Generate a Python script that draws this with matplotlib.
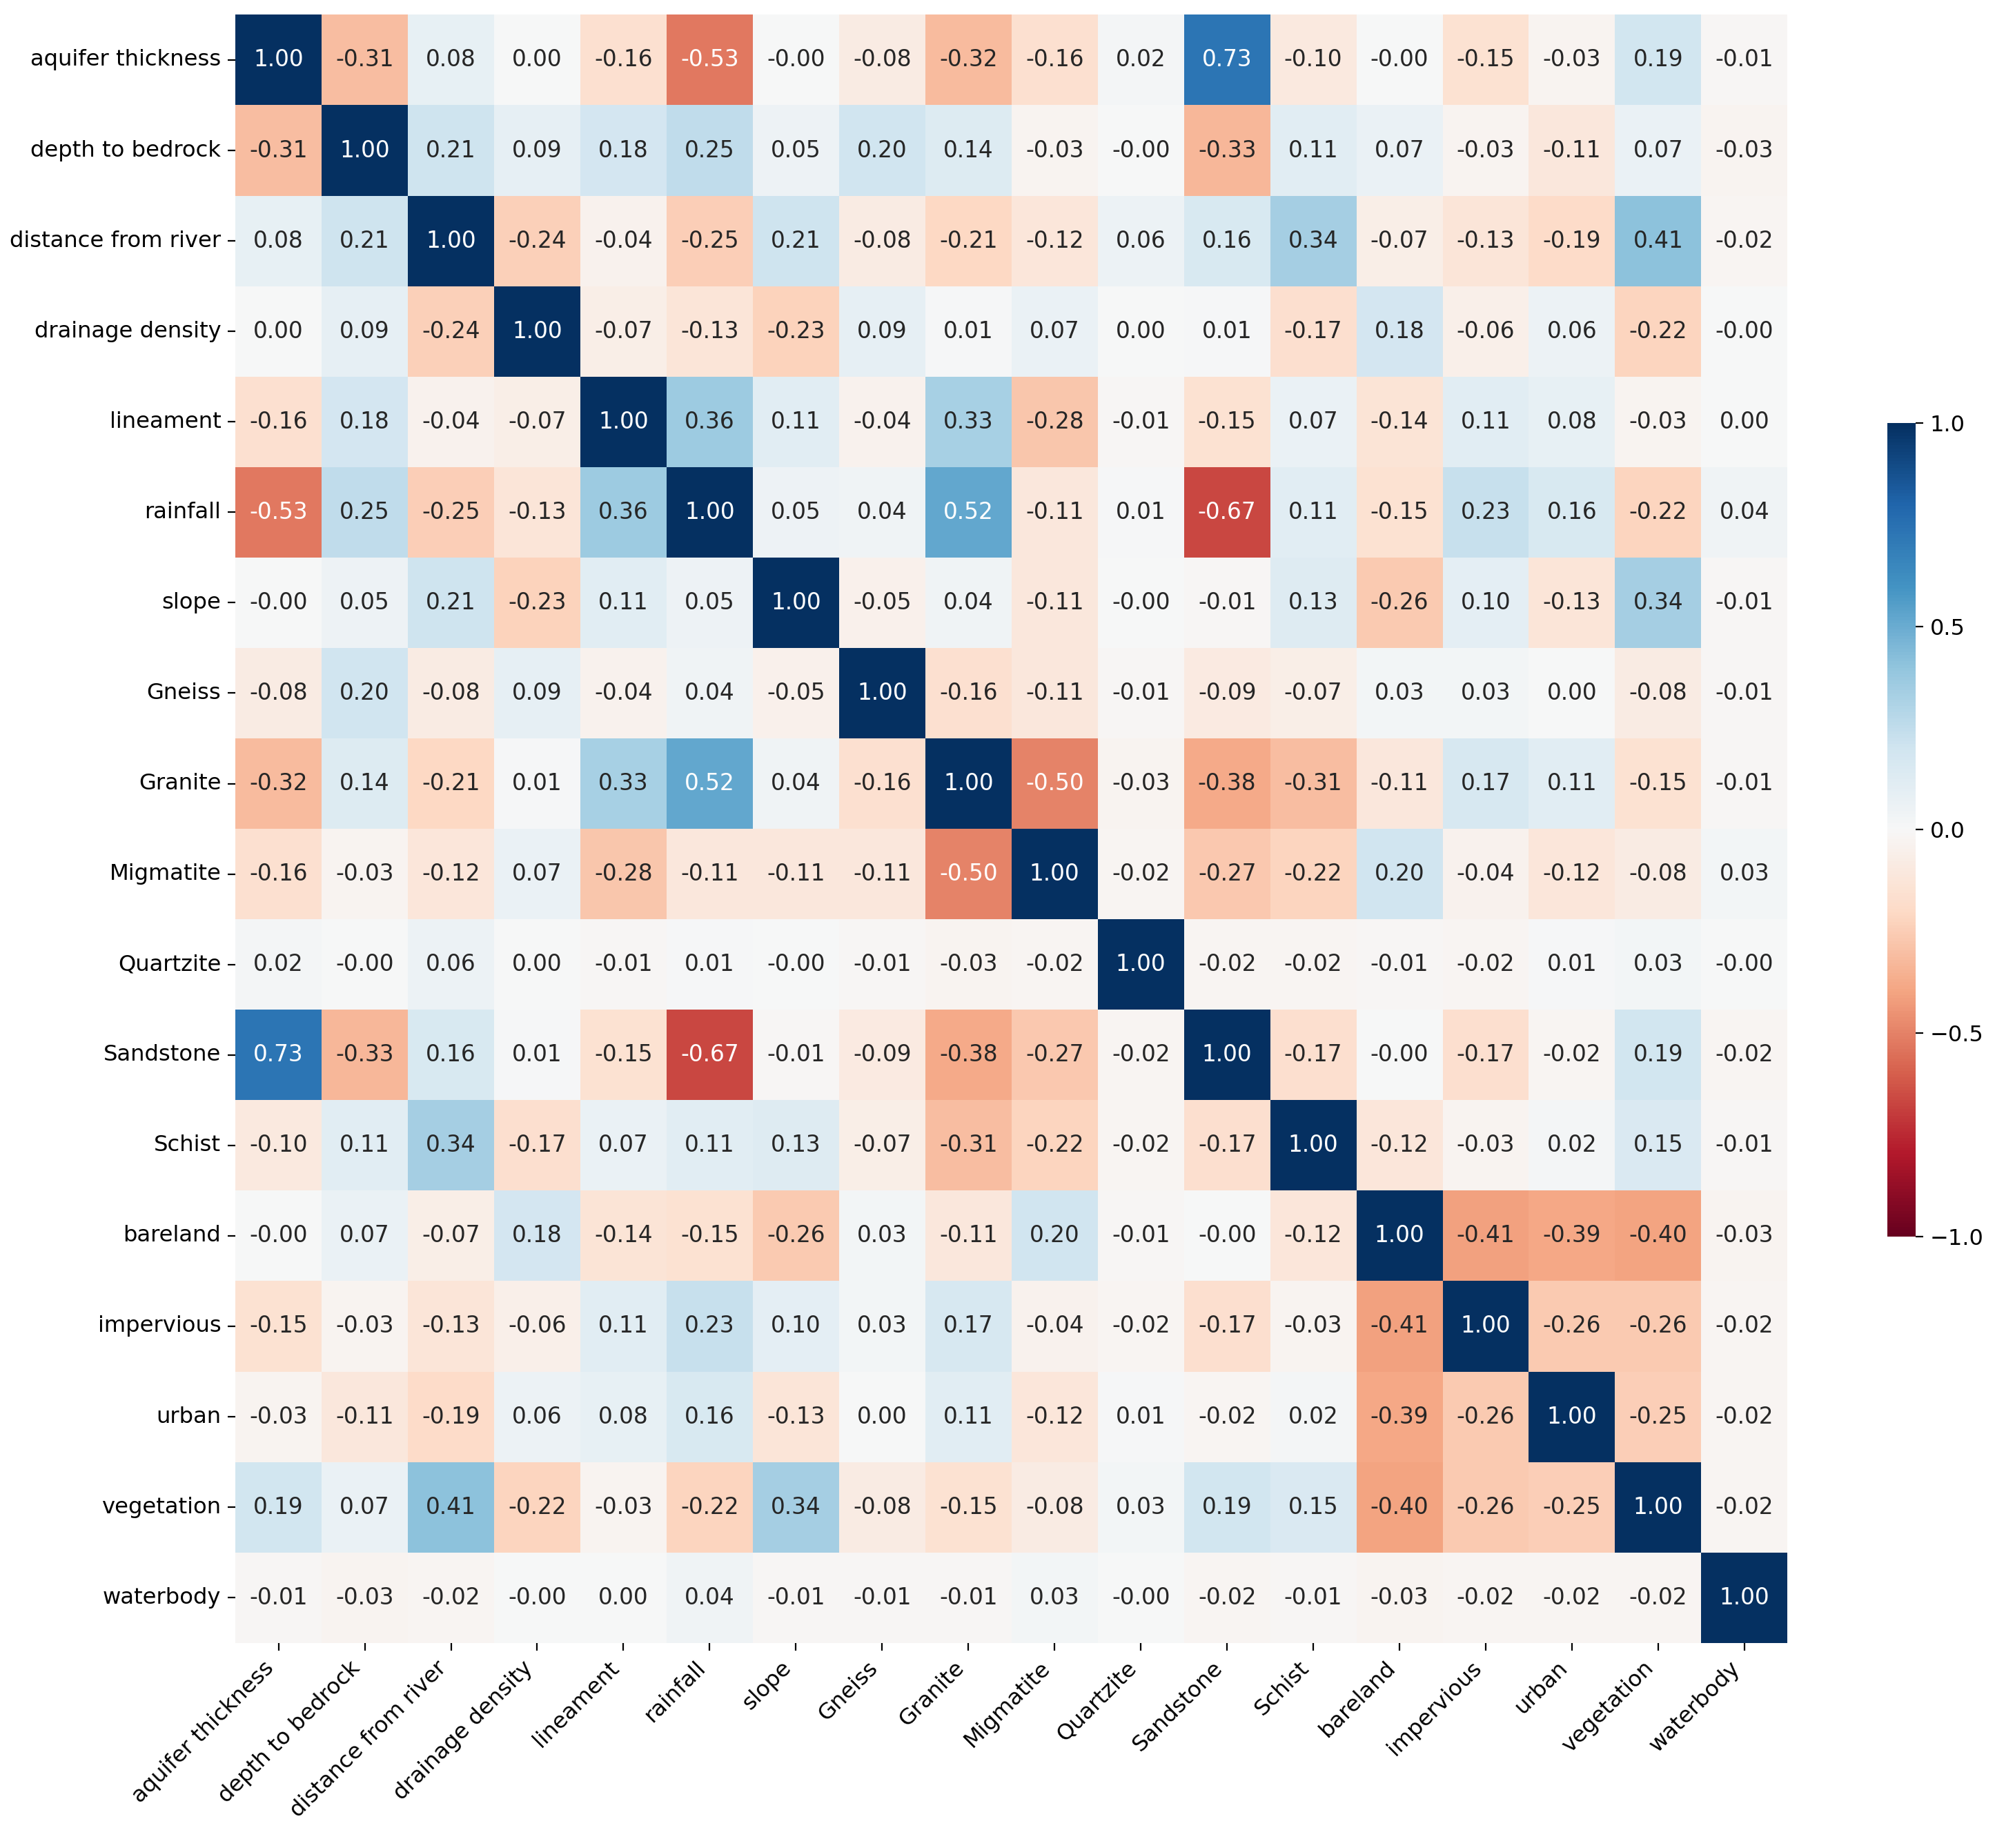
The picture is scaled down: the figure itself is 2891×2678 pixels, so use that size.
import numpy as np
import matplotlib
matplotlib.use('Agg')
import matplotlib.pyplot as plt
import seaborn as sns

# DATA

labels = ['aquifer thickness', 'depth to bedrock', 'distance from river',
          'drainage density', 'lineament', 'rainfall', 'slope', 'Gneiss',
          'Granite', 'Migmatite', 'Quartzite', 'Sandstone', 'Schist',
          'bareland', 'impervious', 'urban', 'vegetation', 'waterbody']

# one list per row (-0.0 shows as "-0.00")
aquifer_thickness = [1.00, -0.31, 0.08, 0.00, -0.16, -0.53, -0.0, -0.08, -0.32, -0.16, 0.02, 0.73, -0.10, -0.0, -0.15, -0.03, 0.19, -0.01]
depth_to_bedrock = [-0.31, 1.00, 0.21, 0.09, 0.18, 0.25, 0.05, 0.20, 0.14, -0.03, -0.0, -0.33, 0.11, 0.07, -0.03, -0.11, 0.07, -0.03]
distance_from_river = [0.08, 0.21, 1.00, -0.24, -0.04, -0.25, 0.21, -0.08, -0.21, -0.12, 0.06, 0.16, 0.34, -0.07, -0.13, -0.19, 0.41, -0.02]
drainage_density = [0.00, 0.09, -0.24, 1.00, -0.07, -0.13, -0.23, 0.09, 0.01, 0.07, 0.00, 0.01, -0.17, 0.18, -0.06, 0.06, -0.22, -0.0]
lineament = [-0.16, 0.18, -0.04, -0.07, 1.00, 0.36, 0.11, -0.04, 0.33, -0.28, -0.01, -0.15, 0.07, -0.14, 0.11, 0.08, -0.03, 0.00]
rainfall = [-0.53, 0.25, -0.25, -0.13, 0.36, 1.00, 0.05, 0.04, 0.52, -0.11, 0.01, -0.67, 0.11, -0.15, 0.23, 0.16, -0.22, 0.04]
slope = [-0.0, 0.05, 0.21, -0.23, 0.11, 0.05, 1.00, -0.05, 0.04, -0.11, -0.0, -0.01, 0.13, -0.26, 0.10, -0.13, 0.34, -0.01]
gneiss = [-0.08, 0.20, -0.08, 0.09, -0.04, 0.04, -0.05, 1.00, -0.16, -0.11, -0.01, -0.09, -0.07, 0.03, 0.03, 0.00, -0.08, -0.01]
granite = [-0.32, 0.14, -0.21, 0.01, 0.33, 0.52, 0.04, -0.16, 1.00, -0.50, -0.03, -0.38, -0.31, -0.11, 0.17, 0.11, -0.15, -0.01]
migmatite = [-0.16, -0.03, -0.12, 0.07, -0.28, -0.11, -0.11, -0.11, -0.50, 1.00, -0.02, -0.27, -0.22, 0.20, -0.04, -0.12, -0.08, 0.03]
quartzite = [0.02, -0.0, 0.06, 0.00, -0.01, 0.01, -0.0, -0.01, -0.03, -0.02, 1.00, -0.02, -0.02, -0.01, -0.02, 0.01, 0.03, -0.0]
sandstone = [0.73, -0.33, 0.16, 0.01, -0.15, -0.67, -0.01, -0.09, -0.38, -0.27, -0.02, 1.00, -0.17, -0.0, -0.17, -0.02, 0.19, -0.02]
schist = [-0.10, 0.11, 0.34, -0.17, 0.07, 0.11, 0.13, -0.07, -0.31, -0.22, -0.02, -0.17, 1.00, -0.12, -0.03, 0.02, 0.15, -0.01]
bareland = [-0.0, 0.07, -0.07, 0.18, -0.14, -0.15, -0.26, 0.03, -0.11, 0.20, -0.01, -0.0, -0.12, 1.00, -0.41, -0.39, -0.40, -0.03]
impervious = [-0.15, -0.03, -0.13, -0.06, 0.11, 0.23, 0.10, 0.03, 0.17, -0.04, -0.02, -0.17, -0.03, -0.41, 1.00, -0.26, -0.26, -0.02]
urban = [-0.03, -0.11, -0.19, 0.06, 0.08, 0.16, -0.13, 0.00, 0.11, -0.12, 0.01, -0.02, 0.02, -0.39, -0.26, 1.00, -0.25, -0.02]
vegetation = [0.19, 0.07, 0.41, -0.22, -0.03, -0.22, 0.34, -0.08, -0.15, -0.08, 0.03, 0.19, 0.15, -0.40, -0.26, -0.25, 1.00, -0.02]
waterbody = [-0.01, -0.03, -0.02, -0.0, 0.00, 0.04, -0.01, -0.01, -0.01, 0.03, -0.0, -0.02, -0.01, -0.03, -0.02, -0.02, -0.02, 1.00]

corr = np.array([aquifer_thickness, depth_to_bedrock, distance_from_river,
                 drainage_density, lineament, rainfall, slope, gneiss,
                 granite, migmatite, quartzite, sandstone, schist,
                 bareland, impervious, urban, vegetation, waterbody])

cbar_ticks = [-1.0, -0.5, 0.0, 0.5, 1.0]

# PLOT

plt.rcParams['font.family'] = ['DejaVu Sans']

fig = plt.figure(figsize=(2891 / 200, 2678 / 200), dpi=200)
ax = fig.add_axes([0.118, 0.111, 0.778, 0.881])
cax = fig.add_axes([0.946, 0.331, 0.0142, 0.44])

sns.heatmap(corr, ax=ax, cbar_ax=cax, cmap='RdBu', vmin=-1, vmax=1,
            annot=True, fmt='.2f', annot_kws={'fontsize': 11.8},
            xticklabels=labels, yticklabels=labels)

ax.tick_params(axis='both', labelsize=11.6, length=4, width=0.8)
ax.set_yticklabels(labels, rotation=0)
ax.set_xticklabels(labels, rotation=45, ha='right')

cax.set_yticks(cbar_ticks)
cax.tick_params(labelsize=11.5, length=4, width=0.8)

fig.savefig('out.png', dpi=200)
